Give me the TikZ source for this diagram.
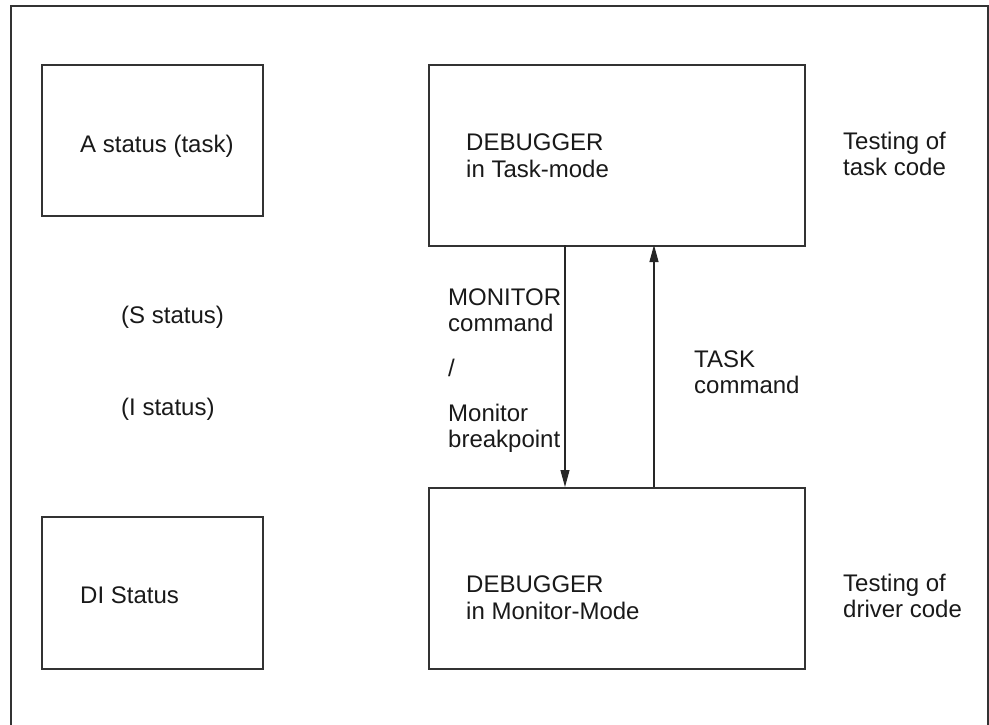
\documentclass[tikz,border=0pt]{standalone}
\usepackage{fontspec}
\setmainfont{Liberation Sans}
\usetikzlibrary{arrows.meta}
\begin{document}
\begin{tikzpicture}[x=1pt,y=-1pt,
  box/.style={draw=black!80,line width=1.5pt,inner sep=0pt,anchor=north west},
  lbl/.style={anchor=base west,inner sep=0pt,text=black!90,font=\fontsize{24}{28}\selectfont},
  conn/.style={line width=1.1pt,draw=black!85,-{Triangle[length=17pt,width=9pt]}}]
\useasboundingbox (0,0) rectangle (989,724);
\draw[line width=1.5pt,draw=black!80] (11,730) -- (11,6) -- (988,6) -- (988,730);
\node[box,minimum width=221pt,minimum height=151pt] (abox) at (41,64) {};
\node[box,minimum width=221pt,minimum height=152pt] (dibox) at (41,516) {};
\node[box,minimum width=376pt,minimum height=181pt] (task) at (428,64) {};
\node[box,minimum width=376pt,minimum height=181pt] (mon) at (428,487) {};
\coordinate (d1) at (565,245);
\coordinate (d2) at (565,487);
\coordinate (u1) at (654,487);
\coordinate (u2) at (654,245);
\draw[conn] (d1) -- (d2);
\draw[conn] (u1) -- (u2);
\node[lbl] (a) at (80,152) {A status (task)};
\node[lbl] (t1) at (466,150) {DEBUGGER};
\node[lbl] (t2) at (466,177) {in Task-mode};
\node[lbl] (r1) at (843,149) {Testing of};
\node[lbl] (r2) at (843,175) {task code};
\node[lbl] (m1) at (448,305) {MONITOR};
\node[lbl] (m2) at (448,331) {command};
\node[lbl] (m3) at (448,376) {/};
\node[lbl] (m4) at (448,421) {Monitor};
\node[lbl] (m5) at (448,447) {breakpoint};
\node[lbl] (s) at (121,323) {(S status)};
\node[lbl] (i) at (121,415) {(I status)};
\node[lbl] (k1) at (694,367) {TASK};
\node[lbl] (k2) at (694,393) {command};
\node[lbl] (b1) at (466,592) {DEBUGGER};
\node[lbl] (b2) at (466,619) {in Monitor-Mode};
\node[lbl] (r3) at (843,591) {Testing of};
\node[lbl] (r4) at (843,617) {driver code};
\node[lbl] (di) at (80,603) {DI Status};
\end{tikzpicture}
\end{document}
